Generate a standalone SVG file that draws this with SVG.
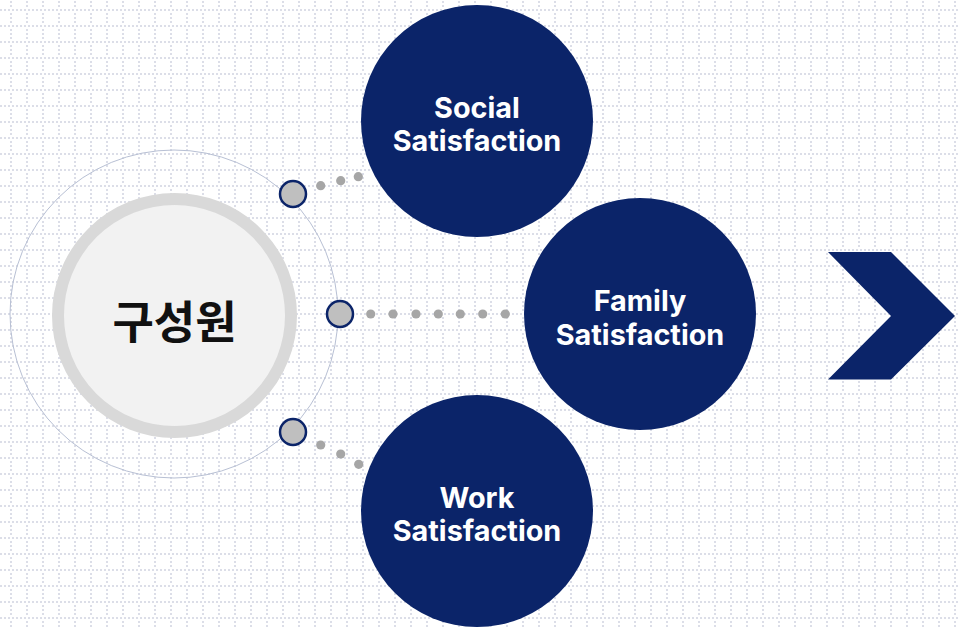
<svg xmlns="http://www.w3.org/2000/svg" width="958" height="629" viewBox="0 0 958 629">
<style>
.nav{fill:#0b2469}
.lbl{font-family:Inter,"Noto Sans","Liberation Sans",sans-serif;font-weight:700;font-size:28.8px;fill:#fff;text-anchor:middle}
.pt{fill:#bfbfbf;stroke:#0b2469;stroke-width:2.5}
.dot{fill:#a6a6a6}
.gd{fill:#dcdee8}
</style>
<defs>
<pattern id="grid" width="16" height="16" patternUnits="userSpaceOnUse">
<rect class="gd" x="0" y="9" width="2" height="2"/>
<rect class="gd" x="4" y="9" width="2" height="2"/>
<rect class="gd" x="8" y="9" width="2" height="2"/>
<rect class="gd" x="12" y="9" width="2" height="2"/>
<rect class="gd" x="10" y="1" width="2" height="2"/>
<rect class="gd" x="10" y="5" width="2" height="2"/>
<rect class="gd" x="10" y="13" width="2" height="2"/>
</pattern>
</defs>
<rect width="958" height="629" fill="#fff"/>
<rect width="958" height="629" fill="url(#grid)"/>
<circle cx="174" cy="314" r="164" fill="none" stroke="#b8c0d4" stroke-width="1"/>
<g id="connectors">
<circle class="dot" cx="320.7" cy="185.7" r="4.6"/>
<circle class="dot" cx="340.7" cy="180.7" r="4.6"/>
<circle class="dot" cx="358.3" cy="176.7" r="4.6"/>
<circle class="dot" cx="370.7" cy="314" r="4.6"/>
<circle class="dot" cx="393" cy="314" r="4.6"/>
<circle class="dot" cx="416" cy="314" r="4.6"/>
<circle class="dot" cx="438.3" cy="314" r="4.6"/>
<circle class="dot" cx="460.3" cy="314" r="4.6"/>
<circle class="dot" cx="482.7" cy="314" r="4.6"/>
<circle class="dot" cx="505.3" cy="314" r="4.6"/>
<circle class="dot" cx="320.7" cy="445" r="4.6"/>
<circle class="dot" cx="340.7" cy="454" r="4.6"/>
<circle class="dot" cx="358.7" cy="464.3" r="4.6"/>
<circle class="pt" cx="293" cy="194" r="13"/>
<circle class="pt" cx="340" cy="314" r="13"/>
<circle class="pt" cx="293" cy="432" r="13"/>
</g>
<g id="center">
<circle cx="174.5" cy="315.5" r="116.5" fill="#f2f2f2" stroke="#d9d9d9" stroke-width="12"/>
<text x="174.5" y="339" font-family="'Noto Sans CJK KR',sans-serif" font-weight="700" font-size="45" fill="#111" text-anchor="middle">구성원</text>
</g>
<g id="social">
<circle class="nav" cx="477" cy="121" r="116"/>
<text class="lbl" x="477" y="118">Social</text>
<text class="lbl" x="477" y="151">Satisfaction</text>
</g>
<g id="family">
<circle class="nav" cx="640" cy="314" r="116"/>
<text class="lbl" x="640" y="311">Family</text>
<text class="lbl" x="640" y="345">Satisfaction</text>
</g>
<g id="work">
<circle class="nav" cx="477" cy="511" r="116"/>
<text class="lbl" x="477" y="508">Work</text>
<text class="lbl" x="477" y="541">Satisfaction</text>
</g>
<g id="arrow">
<polygon class="nav" points="828,252 891,252 955,316 891,379.5 828,379.5 891,316"/>
</g>
</svg>
